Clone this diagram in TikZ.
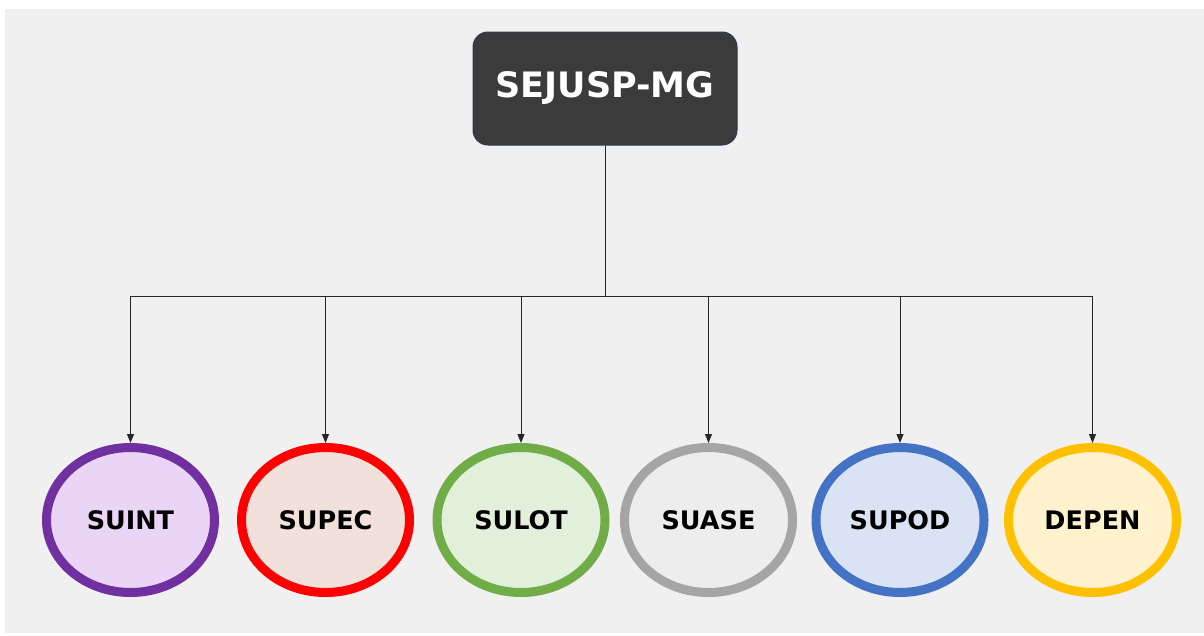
\documentclass[tikz,border=0pt]{standalone}
\usepackage{fontspec}
\setmainfont{DejaVu Sans}
\usetikzlibrary{arrows.meta,shapes.geometric}
\definecolor{bg}{HTML}{F0F0F0}
\definecolor{topfill}{HTML}{3B3B3B}
\definecolor{topdraw}{HTML}{2E3A55}
\definecolor{cA}{HTML}{7030A0}\definecolor{fA}{HTML}{EAD5F6}
\definecolor{cB}{HTML}{FF0000}\definecolor{fB}{HTML}{F2E0DA}
\definecolor{cC}{HTML}{70AD47}\definecolor{fC}{HTML}{E2EFDA}
\definecolor{cD}{HTML}{A5A5A5}\definecolor{fD}{HTML}{EDEDED}
\definecolor{cE}{HTML}{4472C4}\definecolor{fE}{HTML}{DAE3F3}
\definecolor{cF}{HTML}{FFC000}\definecolor{fF}{HTML}{FFF2CC}
\tikzset{
  topbox/.style={draw=topdraw, fill=topfill, line width=1pt, rounded corners=15pt,
    minimum width=264pt, minimum height=113pt, inner sep=0pt,
    text=white, font=\fontsize{35}{40}\selectfont\bfseries},
  unit/.style={ellipse, line width=9pt, minimum width=168pt, minimum height=145pt,
    inner sep=0pt, font=\fontsize{25.5}{28}\selectfont\bfseries, text=black},
  conn/.style={draw=black!85, line width=0.9pt, -{Triangle[length=9pt,width=7pt]}},
}
\begin{document}
\begin{tikzpicture}[x=1pt,y=-1pt]
\useasboundingbox (0,0) rectangle (1204,635);
\fill[white] (0,0) rectangle (1204,635);
\fill[bg] (5,9) rectangle (1204,633);
\node[topbox] (top) at (605,88.5) {SEJUSP-MG};
\coordinate (bus) at (605,296);
\node[unit, draw=cA, fill=fA] (u1) at (130.5,520) {SUINT};
\node[unit, draw=cB, fill=fB] (u2) at (325.5,520) {SUPEC};
\node[unit, draw=cC, fill=fC] (u3) at (521,520) {SULOT};
\node[unit, draw=cD, fill=fD] (u4) at (708.5,520) {SUASE};
\node[unit, draw=cE, fill=fE] (u5) at (900,520) {SUPOD};
\node[unit, draw=cF, fill=fF] (u6) at (1092.5,520) {DEPEN};
\foreach \u in {u1,u2,u3,u4,u5,u6}
  \draw[conn] (top.south) -- (bus) -| (\u.north);
\end{tikzpicture}
\end{document}
